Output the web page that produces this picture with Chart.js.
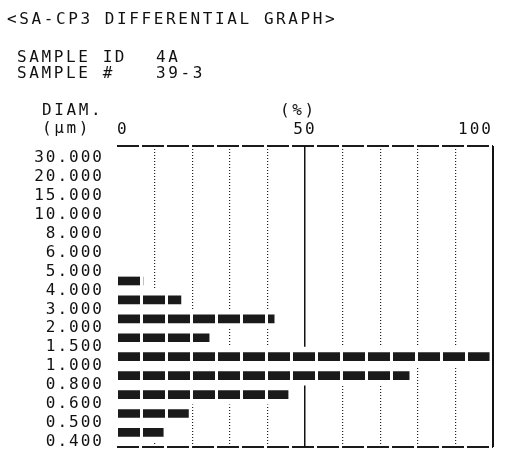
<!DOCTYPE html>
<html><head><meta charset="utf-8">
<script src="https://cdn.jsdelivr.net/npm/chart.js@4/dist/chart.umd.min.js"></script>
<style>
html,body{margin:0;padding:0;background:#fff;}
#wrap{position:relative;width:506px;height:450px;overflow:hidden;background:#fff;}
#c{position:absolute;left:0;top:0;}
.t{position:absolute;font-family:"DejaVu Sans Mono",monospace;font-size:16px;line-height:16px;letter-spacing:2.6px;color:#111;white-space:pre;}
</style></head><body>
<div id="wrap">
<canvas id="c" width="506" height="450"></canvas>
<div class="t" style="left:7px;top:11px">&lt;SA-CP3 DIFFERENTIAL GRAPH&gt;</div>
<div class="t" style="left:17px;top:49px">SAMPLE ID</div>
<div class="t" style="left:156px;top:49px">4A</div>
<div class="t" style="left:17px;top:65px">SAMPLE #</div>
<div class="t" style="left:156px;top:65px">39-3</div>
<div class="t" style="left:42px;top:102px">DIAM.</div>
<div class="t" style="left:42px;top:120px">(μm)</div>
<div class="t" style="left:280px;top:102px">(%)</div>
</div>
<script>
// Diameter boundaries (µm), printed top to bottom
const diameterLabels = ['30.000','20.000','15.000','10.000','8.000','6.000','5.000','4.000','3.000','2.000','1.500','1.000','0.800','0.600','0.500','0.400'];
// Differential percentage for each interval between consecutive diameters (30-20, 20-15, ... 0.5-0.4)
const percentValues = [0, 0, 0, 0, 0, 0, 6.9, 17.0, 41.8, 24.5, 99.0, 77.7, 45.5, 19.0, 12.3];
// Percent axis
const percentGrid = [0, 10, 20, 30, 40, 50, 60, 70, 80, 90, 100];
const percentTickLabels = [0, 50, 100];

const TRANSPARENT = 'rgba(0,0,0,0)';
const FONT = {family: '"DejaVu Sans Mono", monospace', size: 16};

// intervals sit between boundary rows
const points = percentValues.map((v, i) => ({x: v, y: i + 0.5}));

// dot-matrix bar texture
const pc = document.createElement('canvas');
pc.width = 25; pc.height = 8;
const pctx = pc.getContext('2d');
pctx.fillStyle = '#1a1a1a';
pctx.fillRect(0, 0, 25, 8);
pctx.clearRect(15, 0, 2.5, 8);
const barPattern = document.getElementById('c').getContext('2d').createPattern(pc, 'repeat');

const spacingPlugin = {
  id: 'spacing',
  beforeLayout(chart) { chart.ctx.letterSpacing = '2px'; },
  beforeDraw(chart) { chart.ctx.letterSpacing = '2px'; }
};

const noPad = s => { s.paddingTop = 0; s.paddingBottom = 0; s.paddingLeft = 0; s.paddingRight = 0; };

const yMin = -0.63, yMax = 15.27;

new Chart(document.getElementById('c'), {
  type: 'bar',
  data: {
    datasets: [
      {data: points, backgroundColor: barPattern, barThickness: 8, grouped: false, borderWidth: 0, xAxisID: 'x', yAxisID: 'y'},
      {data: points, backgroundColor: '#ffffff', barThickness: 19, grouped: false, borderWidth: 0, xAxisID: 'x', yAxisID: 'y'}
    ]
  },
  options: {
    indexAxis: 'y',
    responsive: false,
    animation: false,
    devicePixelRatio: 1,
    layout: {padding: {left: 0, top: 0, right: 13, bottom: 3}},
    plugins: {legend: {display: false}, tooltip: {enabled: false}, title: {display: false}},
    scales: {
      y: {
        type: 'linear', reverse: true, min: yMin, max: yMax, offset: false,
        afterBuildTicks: s => {
          s.ticks = [{value: yMin}].concat(diameterLabels.map((_, i) => ({value: i})), [{value: yMax}]);
        },
        ticks: {
          autoSkip: false, padding: 13, color: '#111', font: FONT,
          callback: v => Number.isInteger(v) ? diameterLabels[v] : ''
        },
        grid: {
          offset: false, drawTicks: false, lineWidth: 2,
          color: c => (c.tick && Number.isInteger(c.tick.value)) ? TRANSPARENT : '#1a1a1a'
        },
        border: {display: false, dash: [22, 3]},
        afterFit: s => { s.width = 117; noPad(s); }
      },
      x: {
        type: 'linear', position: 'top', min: 0, max: 100, offset: false,
        afterBuildTicks: s => { s.ticks = percentGrid.map(v => ({value: v})); },
        ticks: {
          autoSkip: false, maxRotation: 0, align: 'inner', padding: 7, color: '#111', font: FONT,
          callback: v => percentTickLabels.includes(v) ? String(v) : ''
        },
        grid: {
          offset: false, drawTicks: false, lineWidth: 1.2,
          color: c => (c.tick && c.tick.value % 50 === 0) ? TRANSPARENT : '#222'
        },
        border: {display: false, dash: [1, 2]},
        afterFit: s => { s.height = 146; noPad(s); }
      },
      xMajor: {
        type: 'linear', position: 'top', min: 0, max: 100, offset: false,
        afterBuildTicks: s => { s.ticks = percentTickLabels.map(v => ({value: v})); },
        ticks: {display: false},
        grid: {
          offset: false, drawTicks: false,
          lineWidth: c => (c.tick && c.tick.value === 100) ? 2 : 1.5,
          color: c => (c.tick && c.tick.value === 0) ? TRANSPARENT : '#111'
        },
        border: {display: false},
        afterFit: s => { s.height = 0; noPad(s); }
      }
    }
  },
  plugins: [spacingPlugin]
});
</script>
</body></html>
